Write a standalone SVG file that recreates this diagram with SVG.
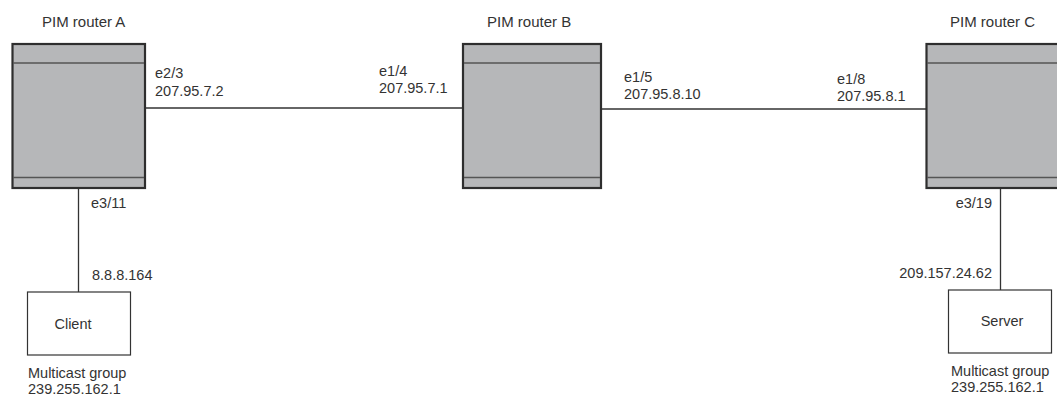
<svg xmlns="http://www.w3.org/2000/svg" width="1057" height="396" viewBox="0 0 1057 396">
<style>
text{font-family:"Liberation Sans",Arial,sans-serif;font-size:14.5px;fill:#333}
.title{font-size:15px}
.router{fill:#b6b7b9;stroke:#2e2e2e;stroke-width:2.2}
.band{stroke:#555;stroke-width:1.5}
.host{fill:#fff;stroke:#333;stroke-width:1.2}
.link{stroke:#333;stroke-width:1.3;fill:none}
.mid{text-anchor:middle}
.end{text-anchor:end}
</style>
<rect width="1057" height="396" fill="#fff"/>
<g id="connectors">
<line class="link" x1="145" y1="108" x2="463" y2="108"/>
<line class="link" x1="601" y1="109" x2="926" y2="109"/>
<line class="link" x1="78.5" y1="188" x2="78.5" y2="292"/>
<line class="link" x1="1000.5" y1="188" x2="1000.5" y2="290"/>
</g>
<g id="routerA">
<rect class="router" x="12.5" y="44" width="132.5" height="144"/>
<line class="band" x1="13" y1="63" x2="144" y2="63"/>
<line class="band" x1="13" y1="177.5" x2="144" y2="177.5"/>
<text class="title" x="42" y="27">PIM router A</text>
</g>
<g id="routerB">
<rect class="router" x="463" y="44" width="138" height="144"/>
<line class="band" x1="464" y1="63" x2="600" y2="63"/>
<line class="band" x1="464" y1="177.5" x2="600" y2="177.5"/>
<text class="title" x="487" y="27">PIM router B</text>
</g>
<g id="routerC">
<rect class="router" x="926.5" y="44" width="140" height="144"/>
<line class="band" x1="927" y1="63" x2="1066" y2="63"/>
<line class="band" x1="927" y1="177.5" x2="1066" y2="177.5"/>
<text class="title" x="950" y="27">PIM router C</text>
</g>
<g id="client">
<rect class="host" x="27.5" y="292" width="103" height="63"/>
<text class="mid" x="73" y="329">Client</text>
<text x="28" y="378">Multicast group</text>
<text x="28" y="394">239.255.162.1</text>
</g>
<g id="server">
<rect class="host" x="948.5" y="290" width="103" height="63"/>
<text class="mid" x="1002" y="326">Server</text>
<text x="951" y="376">Multicast group</text>
<text x="951" y="392">239.255.162.1</text>
</g>
<g id="labels">
<text x="155" y="78">e2/3</text>
<text x="155" y="96">207.95.7.2</text>
<text x="379" y="76">e1/4</text>
<text x="379" y="93">207.95.7.1</text>
<text x="624" y="82">e1/5</text>
<text x="624" y="99">207.95.8.10</text>
<text x="837" y="84">e1/8</text>
<text x="837" y="101">207.95.8.1</text>
<text x="91" y="208">e3/11</text>
<text x="92" y="280">8.8.8.164</text>
<text class="end" x="992" y="208">e3/19</text>
<text class="end" x="992" y="278">209.157.24.62</text>
</g>
</svg>
